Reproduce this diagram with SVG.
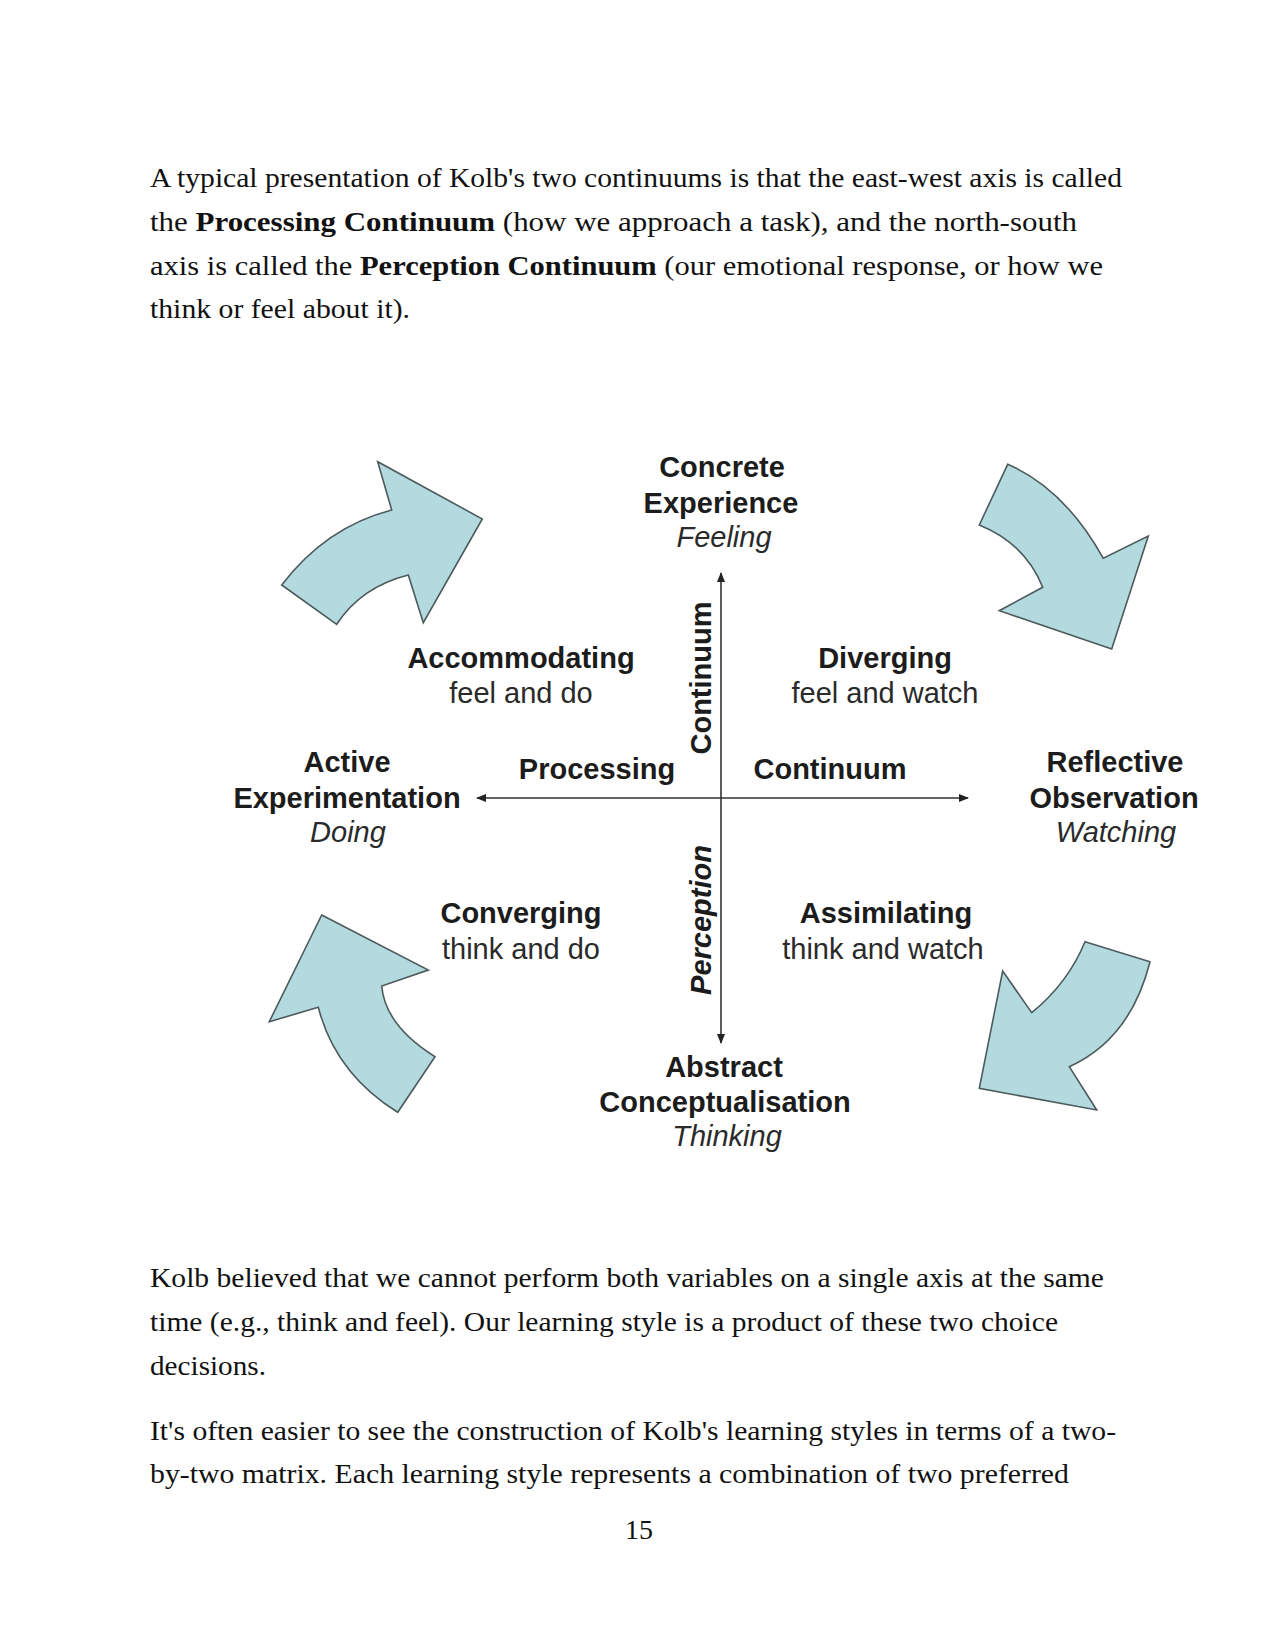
<svg xmlns="http://www.w3.org/2000/svg" width="1275" height="1651" viewBox="0 0 1275 1651">
  <style>
    .body { font-family: "Liberation Serif", "Times New Roman", serif; font-size: 28px; fill: #111; }
    .b { font-weight: bold; }
    .lbl { font-family: "Liberation Sans", Arial, sans-serif; font-size: 29px; font-weight: bold; fill: #1c1c1c; text-anchor: middle; }
    .sub { font-family: "Liberation Sans", Arial, sans-serif; font-size: 29px; fill: #2a2a2a; text-anchor: middle; }
    .it { font-family: "Liberation Sans", Arial, sans-serif; font-size: 29px; font-style: italic; fill: #2a2a2a; text-anchor: middle; }
    .blk { fill: #b3dbdf; stroke: #4d5a5c; stroke-width: 1.6; stroke-linejoin: miter; }
    .axis { stroke: #333; stroke-width: 1.6; fill: none; marker-end: url(#ah); }
  </style>
  <defs>
    <marker id="ah" markerWidth="10" markerHeight="8" refX="9" refY="4" orient="auto" markerUnits="userSpaceOnUse">
      <path d="M0,0 L10,4 L0,8 Z" fill="#222"/>
    </marker>
  </defs>
  <rect width="1275" height="1651" fill="#ffffff"/>

  <g id="intro-text">
    <text class="body" x="150" y="187" textLength="972" lengthAdjust="spacingAndGlyphs">A typical presentation of Kolb's two continuums is that the east-west axis is called</text>
    <text class="body" x="150" y="231" textLength="927" lengthAdjust="spacingAndGlyphs">the <tspan class="b">Processing Continuum</tspan> (how we approach a task), and the north-south</text>
    <text class="body" x="150" y="275" textLength="953" lengthAdjust="spacingAndGlyphs">axis is called the <tspan class="b">Perception Continuum</tspan> (our emotional response, or how we</text>
    <text class="body" x="150" y="318" textLength="260" lengthAdjust="spacingAndGlyphs">think or feel about it).</text>
  </g>

  <g id="cycle-arrows">
    <path id="arrow-top-left" class="blk" d="M377.7,461.7 L391.7,510 Q326,527 281.7,585 L336.7,624.3 Q361,587 408.3,575 L423.3,622.7 L482.3,519 Z"/>
    <path id="arrow-top-right" class="blk" d="M1007.7,464.3 Q1064.5,488.7 1103.3,558.3 L1148.3,536 L1111.7,649 L999.3,610.7 L1042.7,587.3 Q1025.6,543.8 979.3,525 Z"/>
    <path id="arrow-bottom-right" class="blk" d="M1085,941.7 L1150,961.7 Q1130.4,1039.2 1069.3,1066.7 L1096.7,1110 L979.3,1088.3 L1002.7,971 L1031.7,1012.7 Q1068.2,982.8 1085,941.7 Z"/>
    <path id="arrow-bottom-left" class="blk" d="M321.7,915 L428.3,970 L381.7,986 Q385,1025.3 435,1056.7 L397.7,1112.3 Q335.4,1073.6 318.3,1007.3 L269.3,1021.7 Z"/>
  </g>

  <g id="connectors">
    <line id="axis-north" class="axis" x1="721" y1="798" x2="721" y2="573"/>
    <line id="axis-south" class="axis" x1="721" y1="798" x2="721" y2="1043"/>
    <line id="axis-west" class="axis" x1="721" y1="798" x2="477" y2="798"/>
    <line id="axis-east" class="axis" x1="721" y1="798" x2="968" y2="798"/>
  </g>

  <g id="node-concrete-experience">
    <text class="lbl" x="722" y="477">Concrete</text>
    <text class="lbl" x="721" y="513">Experience</text>
    <text class="it" x="724" y="547">Feeling</text>
  </g>
  <g id="node-reflective-observation">
    <text class="lbl" x="1115" y="772">Reflective</text>
    <text class="lbl" x="1114" y="808">Observation</text>
    <text class="it" x="1116" y="842">Watching</text>
  </g>
  <g id="node-abstract-conceptualisation">
    <text class="lbl" x="724" y="1077">Abstract</text>
    <text class="lbl" x="725" y="1112">Conceptualisation</text>
    <text class="it" x="727" y="1146">Thinking</text>
  </g>
  <g id="node-active-experimentation">
    <text class="lbl" x="347" y="772">Active</text>
    <text class="lbl" x="347" y="808">Experimentation</text>
    <text class="it" x="348" y="842">Doing</text>
  </g>

  <g id="node-accommodating">
    <text class="lbl" x="521" y="668">Accommodating</text>
    <text class="sub" x="521" y="703">feel and do</text>
  </g>
  <g id="node-diverging">
    <text class="lbl" x="885" y="668">Diverging</text>
    <text class="sub" x="885" y="703">feel and watch</text>
  </g>
  <g id="node-converging">
    <text class="lbl" x="521" y="923">Converging</text>
    <text class="sub" x="521" y="959">think and do</text>
  </g>
  <g id="node-assimilating">
    <text class="lbl" x="886" y="923">Assimilating</text>
    <text class="sub" x="883" y="959">think and watch</text>
  </g>

  <g id="axis-labels">
    <text class="lbl" x="597" y="779">Processing</text>
    <text class="lbl" x="830" y="779">Continuum</text>
    <text class="lbl" transform="translate(711,678) rotate(-90)" x="0" y="0">Continuum</text>
    <text class="lbl" transform="translate(711,920) rotate(-90)" x="0" y="0" font-style="italic">Perception</text>
  </g>

  <g id="closing-text">
    <text class="body" x="150" y="1287" textLength="954" lengthAdjust="spacingAndGlyphs">Kolb believed that we cannot perform both variables on a single axis at the same</text>
    <text class="body" x="150" y="1331" textLength="908" lengthAdjust="spacingAndGlyphs">time (e.g., think and feel). Our learning style is a product of these two choice</text>
    <text class="body" x="150" y="1375" textLength="116" lengthAdjust="spacingAndGlyphs">decisions.</text>
    <text class="body" x="150" y="1440" textLength="966" lengthAdjust="spacingAndGlyphs">It's often easier to see the construction of Kolb's learning styles in terms of a two-</text>
    <text class="body" x="150" y="1483" textLength="919" lengthAdjust="spacingAndGlyphs">by-two matrix. Each learning style represents a combination of two preferred</text>
    <text class="body" x="639" y="1539" text-anchor="middle">15</text>
  </g>
</svg>
